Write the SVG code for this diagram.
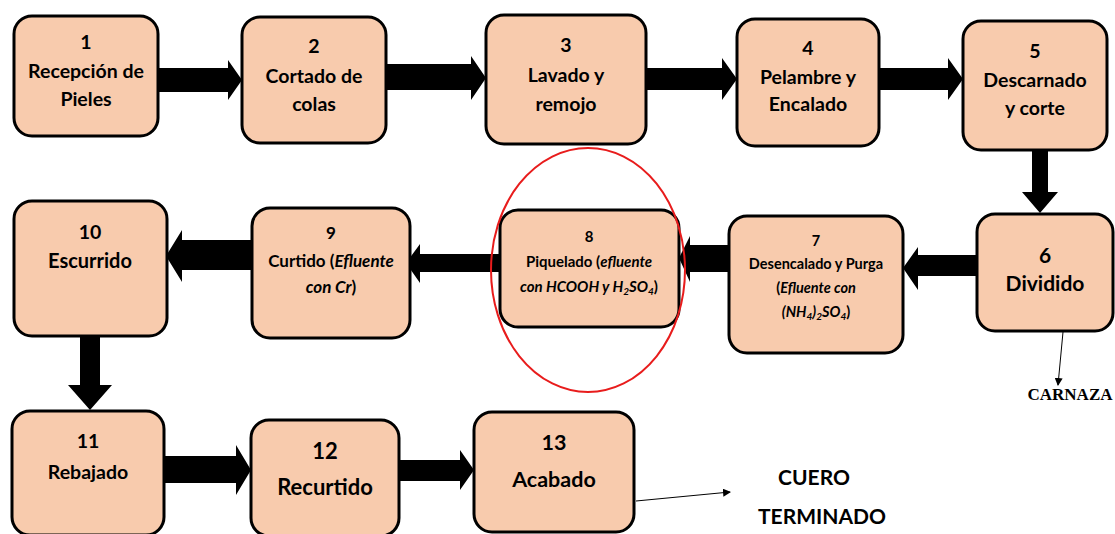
<svg xmlns="http://www.w3.org/2000/svg" width="1115" height="534" viewBox="0 0 1115 534">
<defs>
<style>
.box{fill:#F8CBAD;stroke:#000;stroke-width:3}
.t{font-family:Lato,"Liberation Sans",sans-serif;font-weight:bold;fill:#000;text-anchor:middle}
.s{font-size:19.5px}
.l{font-size:21px}
.blk{fill:#000}
.thin{stroke:#000;stroke-width:1;fill:none}
</style>
<marker id="ah" markerWidth="8" markerHeight="8" refX="7" refY="4" orient="auto" markerUnits="userSpaceOnUse">
<path d="M0,0 L8,4 L0,8 Z" fill="#000"/>
</marker>
</defs>
<rect width="1115" height="534" fill="#fff"/>

<g id="connectors">
<polygon class="blk" points="158,68 228,68 228,60 242,80 228,100 228,92 158,92"/>
<polygon class="blk" points="386,64 471,64 471,56 486,78 471,100 471,90 386,90"/>
<polygon class="blk" points="646,68 722,68 722,58 737,79 722,100 722,90 646,90"/>
<polygon class="blk" points="879,68 948,68 948,58 963,79 948,100 948,90 879,90"/>
<polygon class="blk" points="1032,150 1048,150 1048,192 1058,192 1040,213 1022,192 1032,192"/>
<polygon class="blk" points="977,255 918,255 918,247 903,268 918,290 918,276 977,276"/>
<polygon class="blk" points="729,245 690,245 690,236 679,258 690,282 690,272 729,272"/>
<polygon class="blk" points="500,254 420,254 420,244 406,263 420,283 420,272 500,272"/>
<polygon class="blk" points="252,240 182,240 182,230 166,256 182,282 182,270 252,270"/>
<polygon class="blk" points="80,336 100,336 100,385 112,385 90,410 68,385 80,385"/>
<polygon class="blk" points="164,456 236,456 236,445 251,470 236,495 236,483 164,483"/>
<polygon class="blk" points="399,460 460,460 460,450 474,470 460,490 460,481 399,481"/>
<line class="thin" x1="636" y1="501" x2="730" y2="492" marker-end="url(#ah)"/>
<line class="thin" x1="1063" y1="332" x2="1058" y2="385" marker-end="url(#ah)"/>
</g>

<g id="n1"><rect class="box" x="14" y="16" width="144" height="120" rx="18"/>
<text class="t s" x="86" y="49">1</text><text class="t s" x="86" y="78">Recepción de</text><text class="t s" x="86" y="106">Pieles</text></g>
<g id="n2"><rect class="box" x="242" y="17" width="144" height="126" rx="18"/>
<text class="t s" x="314" y="53">2</text><text class="t s" x="314" y="83">Cortado de</text><text class="t s" x="314" y="111">colas</text></g>
<g id="n3"><rect class="box" x="486" y="15" width="160" height="129" rx="18"/>
<text class="t s" x="566" y="52">3</text><text class="t s" x="566" y="82">Lavado y</text><text class="t s" x="566" y="111">remojo</text></g>
<g id="n4"><rect class="box" x="737" y="19" width="142" height="127" rx="18"/>
<text class="t s" x="808" y="55">4</text><text class="t s" x="808" y="84">Pelambre y</text><text class="t s" x="808" y="111">Encalado</text></g>
<g id="n5"><rect class="box" x="963" y="21" width="144" height="129" rx="18"/>
<text class="t s" x="1035" y="58">5</text><text class="t s" x="1035" y="87">Descarnado</text><text class="t s" x="1035" y="115">y corte</text></g>

<g id="n6"><rect class="box" x="977" y="214" width="136" height="117" rx="18"/>
<text class="t l" x="1045" y="263">6</text><text class="t l" x="1045" y="291">Dividido</text></g>
<g id="n7"><rect class="box" x="729" y="216" width="174" height="137" rx="18"/>
<g class="t" font-size="14.5">
<text x="816" y="246">7</text><text x="816" y="269">Desencalado y Purga</text>
<text x="816" y="293">(<tspan font-style="italic">Efluente con</tspan></text>
<text x="816" y="317"><tspan font-style="italic">(NH<tspan font-size="10" dy="3">4</tspan><tspan dy="-3">)</tspan><tspan font-size="10" dy="3">2</tspan><tspan dy="-3">SO</tspan><tspan font-size="10" dy="3">4</tspan></tspan><tspan dy="-3">)</tspan></text></g></g>
<g id="n8"><rect class="box" x="500" y="210" width="179" height="117" rx="18"/>
<g class="t" font-size="15">
<text x="589" y="242">8</text><text x="589" y="267">Piquelado (<tspan font-style="italic">efluente</tspan></text>
<text x="589" y="292"><tspan font-style="italic">con HCOOH y H<tspan font-size="10" dy="3">2</tspan><tspan dy="-3">SO</tspan><tspan font-size="10" dy="3">4</tspan></tspan><tspan dy="-3">)</tspan></text></g></g>
<ellipse cx="588" cy="270" rx="97" ry="122" fill="none" stroke="#E81C1C" stroke-width="2"/>
<g id="n9"><rect class="box" x="252" y="208" width="158" height="130" rx="18"/>
<g class="t" font-size="17">
<text x="331" y="239">9</text><text x="331" y="267">Curtido (<tspan font-style="italic">Efluente</tspan></text>
<text x="331" y="293"><tspan font-style="italic">con Cr</tspan>)</text></g></g>
<g id="n10"><rect class="box" x="14" y="201" width="153" height="135" rx="18"/>
<text class="t s" x="90" y="239">10</text><text class="t" font-size="20" x="90" y="268">Escurrido</text></g>

<g id="n11"><rect class="box" x="12" y="411" width="152" height="124" rx="18"/>
<text class="t s" x="88" y="448">11</text><text class="t s" x="88" y="479">Rebajado</text></g>
<g id="n12"><rect class="box" x="251" y="420" width="148" height="116" rx="18"/>
<text class="t" font-size="22" x="325" y="459">12</text><text class="t" font-size="22" x="325" y="495">Recurtido</text></g>
<g id="n13"><rect class="box" x="474" y="412" width="160" height="120" rx="18"/>
<text class="t" font-size="21.5" x="554" y="450">13</text><text class="t" font-size="21.5" x="554" y="487">Acabado</text></g>

<g id="labels">
<text class="t l" x="814" y="485">CUERO</text>
<text class="t l" x="822" y="524">TERMINADO</text>
<text x="1070" y="400" font-family="'Liberation Serif',serif" font-weight="bold" font-size="17" text-anchor="middle">CARNAZA</text>
</g>
</svg>
